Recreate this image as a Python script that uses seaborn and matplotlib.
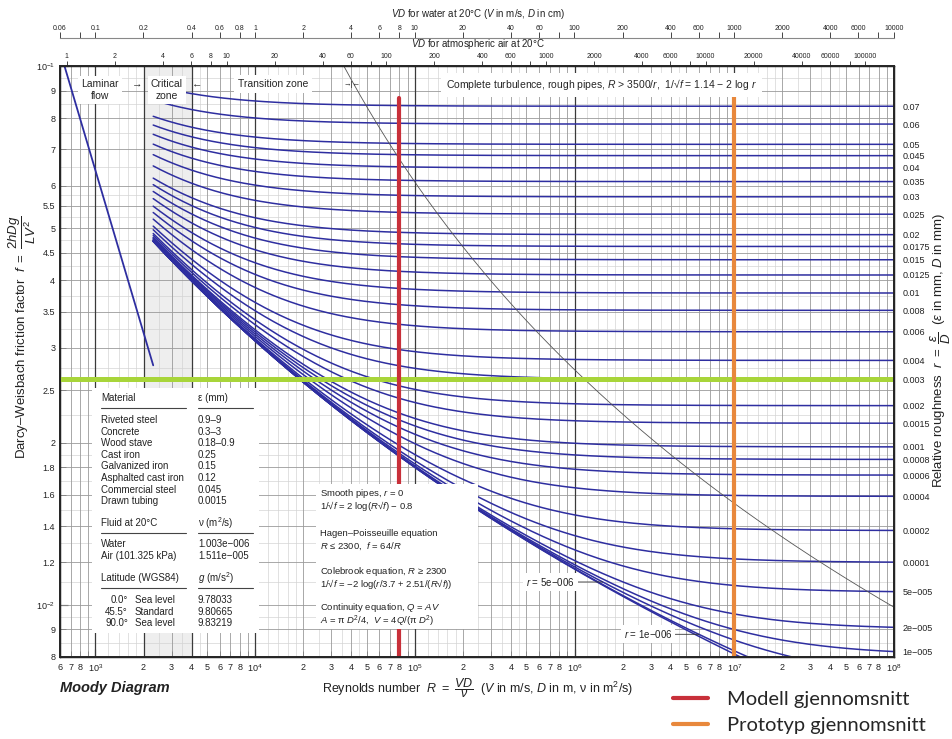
import numpy as np
import pandas as pd
import matplotlib
matplotlib.use('Agg')
import matplotlib.pyplot as plt
import seaborn as sns
from matplotlib.lines import Line2D
from matplotlib.patches import Rectangle
from matplotlib.font_manager import FontProperties

# ---------------- data ----------------
roughness = [0.07, 0.06, 0.05, 0.045, 0.04, 0.035, 0.03, 0.025, 0.02, 0.0175,
             0.015, 0.0125, 0.01, 0.008, 0.006, 0.004, 0.003, 0.002, 0.0015,
             0.001, 0.0008, 0.0006, 0.0004, 0.0002, 0.0001, 5e-5, 2e-5, 1e-5]
roughness_labels = ['0.07', '0.06', '0.05', '0.045', '0.04', '0.035', '0.03',
                    '0.025', '0.02', '0.0175', '0.015', '0.0125', '0.01', '0.008',
                    '0.006', '0.004', '0.003', '0.002', '0.0015', '0.001', '0.0008',
                    '0.0006', '0.0004', '0.0002', '0.0001', '5e\u2212005',
                    '2e\u2212005', '1e\u2212005']
unlabeled_roughness = [5e-6, 1e-6, 0.0]
R_turb_start = 2300.0
R_min, R_max = 600.0, 1e8
f_min, f_max = 0.008, 0.1
laminar_R = [640.0, 2300.0]
critical_zone = [2000.0, 4000.0]
model_R = 8.0e4
prototype_R = 9.9e6
green_f = 0.0262
nu_water = 1.003e-6
nu_air = 1.511e-5
label_5e6_R = 1.5e6
label_1e6_R = 6.0e6

water_ticks = [0.06, 0.1, 0.2, 0.4, 0.6, 0.8, 1, 2, 4, 6, 8, 10, 20, 40, 60, 100,
               200, 400, 600, 1000, 2000, 4000, 6000, 10000]
water_minor = [0.08, 80, 800, 8000]
air_ticks = [1, 2, 4, 6, 8, 10, 20, 40, 60, 100, 200, 400, 600, 1000, 2000, 4000,
             6000, 10000, 20000, 40000, 60000, 100000]
air_minor = [80, 800, 8000, 80000]

y_major = [0.01, 0.1]
y_major_labels = ['10$^{-2}$', '10$^{-1}$']
y_minor = [0.008, 0.009, 0.012, 0.014, 0.016, 0.018, 0.02, 0.025, 0.03, 0.035,
           0.04, 0.045, 0.05, 0.055, 0.06, 0.07, 0.08, 0.09]
y_minor_labels = ['8', '9', '1.2', '1.4', '1.6', '1.8', '2', '2.5', '3', '3.5',
                  '4', '4.5', '5', '5.5', '6', '7', '8', '9']

materials = ['Riveted steel', 'Concrete', 'Wood stave', 'Cast iron',
             'Galvanized iron', 'Asphalted cast iron', 'Commercial steel', 'Drawn tubing']
eps_mm = ['0.9\u20139', '0.3\u20133', '0.18\u20130.9', '0.25', '0.15', '0.12',
          '0.045', '0.0015']
fluids = ['Water', 'Air (101.325 kPa)']
nu_text = ['1.003e\u2212006', '1.511e\u2212005']
latitudes = ['0.0\u00b0', '45.5\u00b0', '90.0\u00b0']
lat_names = ['Sea level', 'Standard', 'Sea level']
g_vals = ['9.78033', '9.80665', '9.83219']

legend_labels = ['Modell gjennomsnitt', 'Prototyp gjennomsnitt']

# ---------------- style ----------------
sns.set_theme(style='white')
plt.rcParams['font.family'] = ['Liberation Sans', 'DejaVu Sans']
plt.rcParams['mathtext.fontset'] = 'custom'
plt.rcParams['mathtext.rm'] = 'Liberation Sans'
plt.rcParams['mathtext.it'] = 'Liberation Sans:italic'
plt.rcParams['mathtext.bf'] = 'Liberation Sans:bold'
plt.rcParams['axes.unicode_minus'] = True

CURVE = '#2e2ea0'
FW, FH = 953, 739
AX_L, AX_R, AX_T, AX_B = 60, 894, 66, 657


def fx(px):
    return px / FW


def fy(py):
    return 1 - py / FH


def axx(px):
    return (px - AX_L) / (AX_R - AX_L)


def axy(py):
    return (AX_B - py) / (AX_B - AX_T)


def colebrook(R, r):
    R = np.asarray(R, dtype=float)
    x = np.full_like(R, 8.0)
    for _ in range(120):
        x = -2 * np.log10(r / 3.7 + 2.51 * x / R)
    return 1 / x ** 2


fig = plt.figure(figsize=(FW / 100, FH / 100), dpi=100)
ax = fig.add_axes([fx(AX_L), fy(AX_B), fx(AX_R - AX_L), (AX_B - AX_T) / FH])
ax.set_xscale('log')
ax.set_yscale('log')
ax.set_xlim(R_min, R_max)
ax.set_ylim(f_min, f_max)
ax.grid(False)

# critical zone shading
ax.axvspan(critical_zone[0], critical_zone[1], color='#eeeeee', zorder=0, lw=0)

# grid lines
dec = [10.0 ** k for k in range(2, 8)]
mid_v = [m * d for d in dec for m in range(2, 10) if R_min <= m * d <= R_max]
fine_v = [m * d for d in dec for m in [1.2, 1.4, 1.6, 1.8, 2.5, 3.5, 4.5]
          if R_min <= m * d <= R_max]
dark_v = [1e3, 1e4, 1e5, 1e6, 1e7] + critical_zone
xt = ax.get_xaxis_transform()
yt = ax.get_yaxis_transform()
ax.vlines(fine_v, 0, 1, transform=xt, color='#d4d4d4', lw=0.5, zorder=0.5)
ax.vlines(mid_v, 0, 1, transform=xt, color='#9a9a9a', lw=0.6, zorder=0.6)
ax.vlines(dark_v, 0, 1, transform=xt, color='#3a3a3a', lw=0.9, zorder=0.7)
fine_h = [0.0085, 0.0095, 0.011, 0.013, 0.015, 0.017, 0.019, 0.0225, 0.0275,
          0.0325, 0.0375, 0.0425, 0.0475, 0.0525, 0.0575, 0.065, 0.075, 0.085, 0.095]
ax.hlines(fine_h, 0, 1, transform=yt, color='#d4d4d4', lw=0.5, zorder=0.5)
ax.hlines(y_minor + [0.01], 0, 1, transform=yt, color='#9a9a9a', lw=0.6, zorder=0.6)

# curves (Colebrook) drawn with seaborn
R_grid = np.geomspace(R_turb_start, R_max, 400)
frames = []
for r in roughness + unlabeled_roughness:
    frames.append(pd.DataFrame({'R': R_grid, 'f': colebrook(R_grid, r), 'r': str(r)}))
curves = pd.concat(frames, ignore_index=True)
sns.lineplot(data=curves, x='R', y='f', units='r', estimator=None, color=CURVE,
             lw=1.1, ax=ax, legend=False, sort=False, zorder=2)

# laminar line
lam = pd.DataFrame({'R': laminar_R, 'f': [64 / v for v in laminar_R]})
sns.lineplot(data=lam, x='R', y='f', color=CURVE, lw=1.3, ax=ax, zorder=2)

# boundary of complete turbulence R = 3500/r
r_b = np.geomspace(0.0975, 3.4e-5, 200)
bnd = pd.DataFrame({'R': 3500 / r_b, 'f': (1.14 - 2 * np.log10(r_b)) ** -2})
sns.lineplot(data=bnd, x='R', y='f', color='#555555', lw=0.6, ax=ax, sort=False, zorder=2.5)

ax.set_xlabel('')
ax.set_ylabel('')

# highlighted lines
ax.axhline(green_f, color='#a8d53a', lw=3.6, zorder=3)
l_red = ax.axvline(model_R, ymin=0, ymax=axy(98), color='#c8303a', lw=3.0, zorder=3)
l_or = ax.axvline(prototype_R, ymin=0, ymax=axy(97), color='#e8883c', lw=3.0, zorder=3)

# ticks
ax.set_xticks([1e3, 1e4, 1e5, 1e6, 1e7, 1e8],
              labels=['10$^3$', '10$^4$', '10$^5$', '10$^6$', '10$^7$', '10$^8$'])
xm, xml = [], []
for d in [1e2, 1e3, 1e4, 1e5, 1e6, 1e7]:
    for m in range(2, 10):
        v = m * d
        if R_min <= v < R_max:
            xm.append(v)
            xml.append(str(m) if m < 9 else '')
ax.set_xticks(xm, labels=xml, minor=True)
ax.set_yticks(y_major, labels=y_major_labels)
ax.set_yticks(y_minor, labels=y_minor_labels, minor=True)
ax.tick_params(axis='both', which='both', direction='in', top=True, right=True,
               labelsize=6.5, colors='black', labelcolor='#222222')
ax.tick_params(axis='both', which='major', length=6, width=0.8)
ax.tick_params(axis='both', which='minor', length=4, width=0.6)
ax.tick_params(axis='x', which='both', pad=4)
for s in ax.spines.values():
    s.set_color('black')
    s.set_linewidth(1.0)

# right-side roughness labels
ax_r = ax.twinx()
ax_r.set_yscale('log')
ax_r.set_ylim(f_min, f_max)
end_f = [colebrook(np.array([R_max]), r)[0] for r in roughness]
ax_r.set_yticks(end_f, labels=roughness_labels)
ax_r.set_yticks([], minor=True)
ax_r.tick_params(axis='y', which='both', length=0, pad=6, labelsize=6.5, labelcolor='#222222')
ax_r.grid(False)

# top axis: VD for air
ax_air = ax.twiny()
ax_air.set_xscale('log')
ax_air.set_xlim(R_min * nu_air * 100, R_max * nu_air * 100)
ax_air.set_xticks(air_ticks, labels=[str(v) for v in air_ticks])
ax_air.set_xticks(air_minor, labels=['' for _ in air_minor], minor=True)
ax_air.tick_params(axis='x', which='both', direction='out', length=3.5, width=0.6,
                   labelsize=5.0, pad=0.5, labelcolor='#222222')
ax_air.grid(False)

# top axis: VD for water
ax_w = fig.add_axes([fx(AX_L), fy(38), fx(AX_R - AX_L), 0.0001])
ax_w.set_xscale('log')
ax_w.set_xlim(R_min * nu_water * 100, R_max * nu_water * 100)
ax_w.patch.set_visible(False)
for k, s in ax_w.spines.items():
    s.set_visible(k == 'top')
ax_w.spines['top'].set_color('#888888')
ax_w.spines['top'].set_linewidth(0.8)
ax_w.spines['top'].set_linestyle((0, (1, 1)))
ax_w.yaxis.set_visible(False)
ax_w.xaxis.set_ticks_position('top')
ax_w.set_xticks(water_ticks, labels=[(f'{v:g}' if v < 1 else str(int(v))) for v in water_ticks])
ax_w.set_xticks(water_minor, labels=['' for _ in water_minor], minor=True)
ax_w.tick_params(axis='x', which='both', direction='out', length=4, width=0.6,
                 labelsize=5.0, pad=0.5, labelcolor='#222222')
ax_w.grid(False)

T = ax.transAxes

# zone annotations
ax.text(axx(100), axy(90), 'Laminar\nflow', transform=T, ha='center', va='center',
        fontsize=7.5, linespacing=1.15, bbox=dict(facecolor='white', edgecolor='none', pad=2.5), zorder=6)
ax.text(axx(137), axy(84), '\u2192', transform=T, ha='center', va='center', fontsize=7.5, zorder=6)
ax.text(axx(167), axy(90), 'Critical\nzone', transform=T, ha='center', va='center',
        fontsize=7.5, linespacing=1.15, bbox=dict(facecolor='white', edgecolor='none', pad=2.5), zorder=6)
ax.text(axx(197), axy(84), '\u2190', transform=T, ha='center', va='center', fontsize=7.5, zorder=6)
ax.text(axx(273), axy(84), 'Transition zone', transform=T, ha='center', va='center',
        fontsize=7.5, bbox=dict(facecolor='white', edgecolor='none', pad=3), zorder=6)
ax.text(axx(352), axy(84), '\u2192|\u2190', transform=T, ha='center', va='center',
        fontsize=5.5, zorder=6)
ax.text(axx(446), axy(85),
        'Complete turbulence, rough pipes, $R$ > 3500/$r$,  1/\u221a$f$ = 1.14 \u2212 2 log $r$',
        transform=T, ha='left', va='center', fontsize=7.5,
        bbox=dict(facecolor='white', edgecolor='none', pad=3.5), zorder=6)

# material table
ax.add_patch(Rectangle((axx(92), axy(633)), axx(259) - axx(92), axy(388) - axy(633),
                       transform=T, facecolor='white', edgecolor='none', zorder=5))
TF = 7


def ttext(px, py, s, ha='left', size=TF):
    ax.text(axx(px), axy(py), s, transform=T, ha=ha, va='center', fontsize=size,
            color='#222222', zorder=6)


def tline(px0, px1, py):
    ax.add_line(Line2D([axx(px0), axx(px1)], [axy(py), axy(py)], transform=T,
                       color='#444444', lw=0.8, zorder=6))


ttext(101, 398, 'Material')
ttext(198, 398, '\u03b5 (mm)')
tline(101, 186, 408)
tline(198, 253, 408)
for i, (m, e) in enumerate(zip(materials, eps_mm)):
    ttext(101, 420 + 11.6 * i, m)
    ttext(198, 420 + 11.6 * i, e)
ttext(101, 523, 'Fluid at 20\u00b0C')
ttext(198, 523, '\u03bd (m$^2$/s)')
tline(101, 186, 533)
tline(198, 253, 533)
for i, (fl, nv) in enumerate(zip(fluids, nu_text)):
    ttext(101, 544 + 11.6 * i, fl)
    ttext(198, 544 + 11.6 * i, nv)
ttext(101, 578, 'Latitude (WGS84)')
ttext(198, 578, '$g$ (m/s$^2$)')
tline(101, 186, 588)
tline(198, 253, 588)
for i, (la, ln, gv) in enumerate(zip(latitudes, lat_names, g_vals)):
    ttext(128, 600 + 11.6 * i, la, ha='right')
    ttext(135, 600 + 11.6 * i, ln)
    ttext(198, 600 + 11.6 * i, gv)

# equations box
ax.add_patch(Rectangle((axx(316), axy(629)), axx(478) - axx(316), axy(484) - axy(629),
                       transform=T, facecolor='white', edgecolor='none', zorder=5))
eqs = [(493, 'Smooth pipes, $r$ = 0'),
       (506, '1/\u221a$f$ = 2 log($R$\u221a$f$) \u2212 0.8'),
       (533, 'Hagen\u2013Poisseuille equation'),
       (546, '$R$ \u2264 2300,  $f$ = 64/$R$'),
       (571, 'Colebrook equation, $R$ \u2265 2300'),
       (584, '1/\u221a$f$ = \u22122 log($r$/3.7 + 2.51/($R$\u221a$f$))'),
       (608, 'Continuity equation, $Q$ = $AV$'),
       (621, '$A$ = \u03c0 $D$$^2$/4,  $V$ = 4$Q$/(\u03c0 $D$$^2$)')]
for py, s in eqs:
    ttext(320, py, s, size=6.8)

# r labels with leaders
for Rl, rv, txt, off in [(label_5e6_R, 5e-6, '$r$ = 5e\u2212006', -20),
                         (label_1e6_R, 1e-6, '$r$ = 1e\u2212006', -19)]:
    fv = colebrook(np.array([Rl]), rv)[0]
    ax.annotate(txt, xy=(Rl, fv), xytext=(off, 0), textcoords='offset points',
                ha='right', va='center', fontsize=7, color='#222222',
                bbox=dict(facecolor='white', edgecolor='none', pad=2),
                arrowprops=dict(arrowstyle='-', color='#333333', lw=0.6,
                                shrinkA=0, shrinkB=0), zorder=6)

# figure texts
fig.text(fx(478), fy(14), '$VD$ for water at 20\u00b0C ($V$ in m/s, $D$ in cm)',
         ha='center', va='center', fontsize=7, color='#222222')
fig.text(fx(478), fy(44), '$VD$ for atmospheric air at 20\u00b0C',
         ha='center', va='center', fontsize=7, color='#222222')
fig.text(fx(22), fy(337),
         'Darcy\u2013Weisbach friction factor  $f\\ =\\ \\dfrac{2hDg}{LV^{2}}$',
         rotation=90, ha='center', va='center', fontsize=9.5, color='#222222')
fig.text(fx(941), fy(350),
         'Relative roughness  $r\\ =\\ \\dfrac{\\varepsilon}{D}$  ($\\varepsilon$ in mm, $D$ in mm)',
         rotation=90, ha='center', va='center', fontsize=9.5, color='#222222')
fig.text(fx(478), fy(688),
         'Reynolds number  $R\\ =\\ \\dfrac{VD}{\\nu}$  ($V$ in m/s, $D$ in m, \u03bd in m$^2$/s)',
         ha='center', va='center', fontsize=9, color='#222222')
fig.text(fx(60), fy(688), 'Moody Diagram', ha='left', va='center', fontsize=10.5,
         fontweight='bold', fontstyle='italic', color='#222222')

# legend
fig.legend(handles=[Line2D([], [], color=l_red.get_color(), lw=3),
                    Line2D([], [], color=l_or.get_color(), lw=3)],
           labels=legend_labels, loc='upper left',
           bbox_to_anchor=(fx(673), fy(691)), frameon=False,
           prop=FontProperties(family='Lato', size=14.5), handlelength=1.75,
           handletextpad=0.95, labelspacing=0.45, borderaxespad=0, borderpad=0)

fig.savefig('out.png', dpi=100)
